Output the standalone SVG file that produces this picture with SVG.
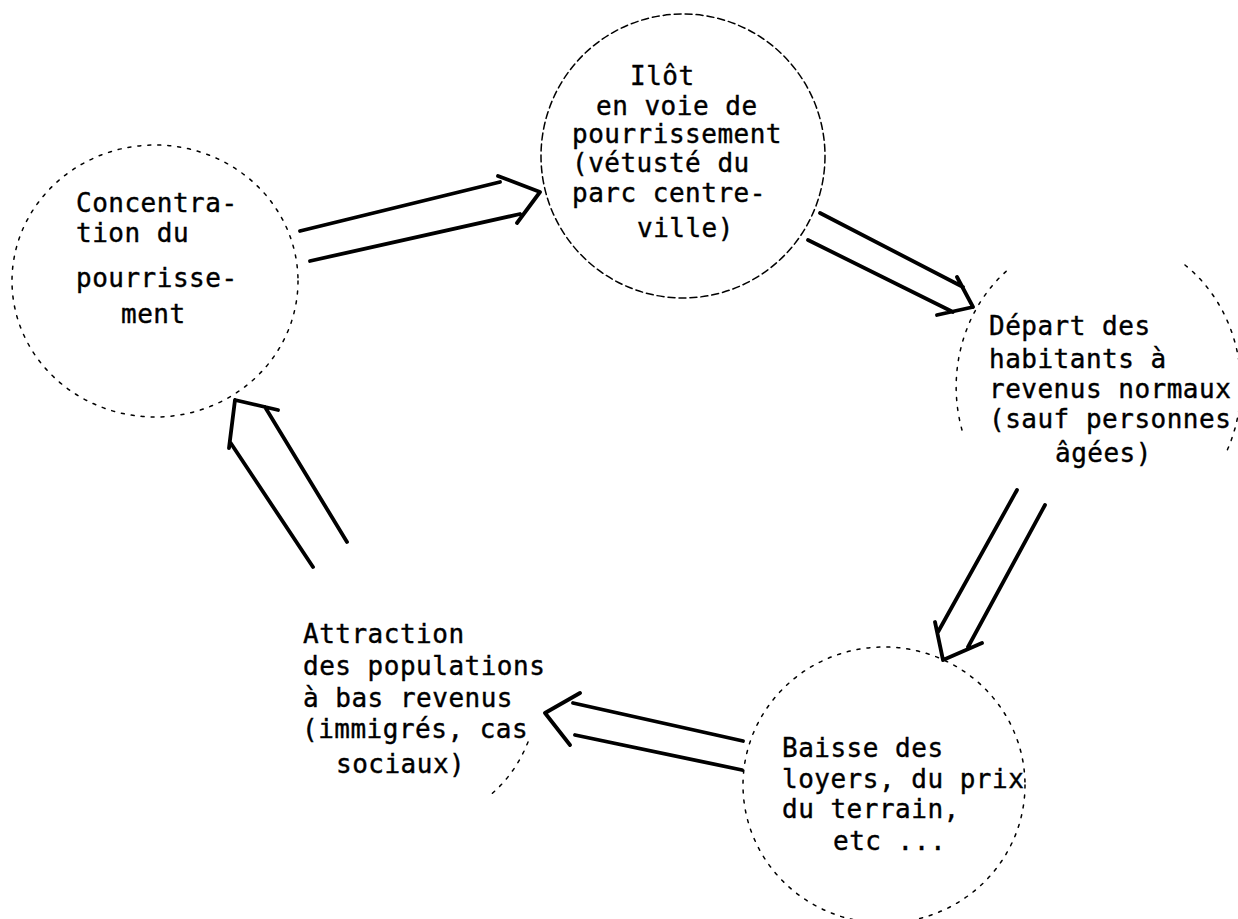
<svg xmlns="http://www.w3.org/2000/svg" width="1238" height="919" viewBox="0 0 1238 919">
<style>
.ring{fill:none;stroke:#000;stroke-width:1.5;stroke-dasharray:3 7;stroke-linecap:round}
.arr{fill:none;stroke:#000;stroke-width:3.8;stroke-linecap:round;stroke-linejoin:round}
text{font-family:"DejaVu Sans Mono","Liberation Mono",monospace;font-size:26px;letter-spacing:0.5px;fill:#000;stroke:#000;stroke-width:0.4}
</style>
<rect width="1238" height="919" fill="#fff"/>
<g id="node-concentration">
<ellipse class="ring" cx="155" cy="281" rx="143" ry="136"/>
<text x="76" y="212">Concentra-</text>
<text x="76" y="242">tion du</text>
<text x="76" y="287">pourrisse-</text>
<text x="121" y="323">ment</text>
</g>
<g id="node-ilot">
<circle class="ring" cx="683" cy="156" r="142" style="stroke-dasharray:7 4"/>
<text x="630" y="85">Ilôt</text>
<text x="596" y="115">en voie de</text>
<text x="572" y="143">pourrissement</text>
<text x="572" y="172">(vétusté du</text>
<text x="572" y="202">parc centre-</text>
<text x="637" y="237">ville)</text>
</g>
<g id="node-depart">
<path class="ring" d="M962,430 A138 150 0 0 1 1010,268"/>
<path class="ring" d="M1185,265 A138 150 0 0 1 1225,455"/>
<text x="989" y="335">Départ des</text>
<text x="989" y="368">habitants à</text>
<text x="989" y="398">revenus normaux</text>
<text x="989" y="428">(sauf personnes</text>
<text x="1055" y="462">âgées)</text>
</g>
<g id="node-baisse">
<ellipse class="ring" cx="884" cy="785" rx="141" ry="138"/>
<text x="782" y="757">Baisse des</text>
<text x="782" y="788">loyers, du prix</text>
<text x="782" y="818">du terrain,</text>
<text x="833" y="850">etc ...</text>
</g>
<g id="node-attraction">
<path class="ring" d="M528,742 Q515,775 488,797"/>
<text x="303" y="643">Attraction</text>
<text x="303" y="675">des populations</text>
<text x="303" y="707">à bas revenus</text>
<text x="302" y="738">(immigrés, cas</text>
<text x="336" y="773">sociaux)</text>
</g>
<g id="connectors">
<path class="arr" d="M300,231 L500,182 M498,176 L540,192 M310,261 L520,214 M517,223 L540,192"/>
<path class="arr" d="M820,213 L963,287 M957,277 L973,307 M808,240 L953,312 M937,315 L973,307"/>
<path class="arr" d="M1017,490 L938,632 M935,622 L943,660 M1045,505 L968,647 M982,643 L943,660"/>
<path class="arr" d="M743,741 L573,703 M580,693 L545,713 M742,770 L575,735 M570,745 L545,713"/>
<path class="arr" d="M313,567 L230,442 M229,448 L235,400 M347,542 L265,407 M278,410 L235,400"/>
</g>
</svg>
